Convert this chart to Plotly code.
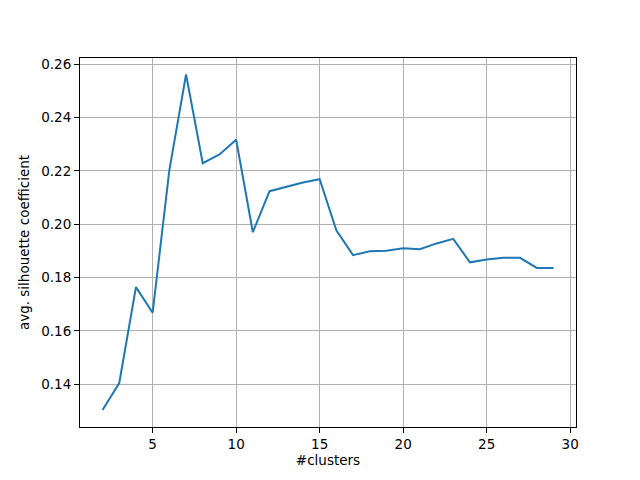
import plotly.graph_objects as go

n_clusters = list(range(2, 30))
silhouette = [0.1303, 0.1404, 0.1764, 0.1668, 0.2203, 0.2562, 0.2229, 0.2262,
              0.2317, 0.1970, 0.2124, 0.2141, 0.2157, 0.2169, 0.1977, 0.1884,
              0.1899, 0.1901, 0.1910, 0.1906, 0.1928, 0.1945, 0.1857, 0.1868,
              0.1874, 0.1874, 0.1836, 0.1836]

fig = go.Figure()
fig.add_trace(go.Scatter(x=n_clusters, y=silhouette, mode='lines',
                         line=dict(color='#1f77b4', width=2)))

axis_style = dict(showline=True, linecolor='black', linewidth=1, mirror=True,
                  ticks='outside', ticklen=5, tickcolor='black',
                  showgrid=True, gridcolor='#b0b0b0', gridwidth=1,
                  zeroline=False, automargin=False,
                  tickfont=dict(family='DejaVu Sans', size=13.5, color='black'))

# page body has an 8px margin, so shift the plot area up/left by 8px
fig.update_layout(
    width=640, height=480,
    margin=dict(l=72, r=72, t=50, b=61, pad=0),
    plot_bgcolor='white', paper_bgcolor='white',
    font=dict(family='DejaVu Sans', size=13.5, color='black'),
    showlegend=False,
    xaxis=dict(range=[0.65, 30.35], tickvals=[5, 10, 15, 20, 25, 30],
               title=dict(text='#clusters', standoff=4,
                          font=dict(family='DejaVu Sans', size=13.5)), **axis_style),
    yaxis=dict(range=[0.1239, 0.2624], tickvals=[0.14, 0.16, 0.18, 0.20, 0.22, 0.24, 0.26],
               tickformat='.2f',
               title=dict(text='avg. silhouette coefficient', standoff=8,
                          font=dict(family='DejaVu Sans', size=13.5)), **axis_style),
)

fig.write_html("out.html")
